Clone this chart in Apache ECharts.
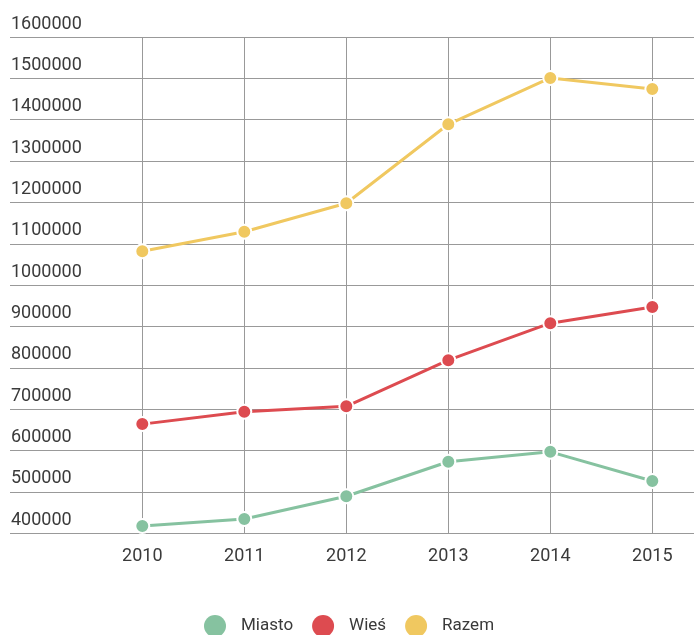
<!DOCTYPE html>
<html><head><meta charset="utf-8">
<script src="https://cdn.jsdelivr.net/npm/echarts@6/dist/echarts.min.js"></script>
<style>html,body{margin:0;padding:0;background:#fff}#c{width:694px;height:635px}</style>
</head><body><div id="c"></div>
<script>
const years = ['2010','2011','2012','2013','2014','2015'];
const miasto = [417700, 434600, 489500, 573000, 597000, 526500];
const wies = [664000, 694000, 707000, 818600, 908000, 947000];
const razem = [1082000, 1129000, 1198000, 1389000, 1501000, 1474000];
const yMin = 400000, yMax = 1600000, yStep = 100000;

const colors = ['#86c2a0', '#dd4b50', '#f0c860'];
const font = 'Roboto, sans-serif';
const chart = echarts.init(document.getElementById('c'));
function ser(name, data, ci) {
  return {
    name, type: 'line', data, xAxisIndex: 1, yAxisIndex: 1,
    symbol: 'circle', symbolSize: 14,
    lineStyle: { width: 3, color: colors[ci] },
    itemStyle: { color: colors[ci], borderColor: '#fff', borderWidth: 2 },
    emphasis: { disabled: true }
  };
}
chart.setOption({
  animation: false,
  color: colors,
  grid: [
    { left: 10, right: 0, top: 37, bottom: 101.7 },
    { left: 142.3, right: 41.7, top: 37, bottom: 101.7 }
  ],
  xAxis: [
    { type: 'category', gridIndex: 0, data: years, show: false },
    { type: 'category', gridIndex: 1, data: years, boundaryGap: false,
      axisLine: { show: false }, axisTick: { show: false },
      axisLabel: { margin: 14, color: '#3a3a3a', fontSize: 18, fontFamily: font },
      splitLine: { show: true, lineStyle: { color: '#999', width: 1 } } }
  ],
  yAxis: [
    { type: 'value', gridIndex: 0, min: yMin, max: yMax, interval: yStep,
      axisLine: { show: false }, axisTick: { show: false },
      axisLabel: { inside: true, margin: 1, align: 'left', verticalAlign: 'bottom',
        formatter: v => String(v),
        padding: [0, 0, 4, 0], color: '#3a3a3a', fontSize: 18, fontFamily: font },
      splitLine: { show: true, lineStyle: { color: '#999', width: 1 } } },
    { type: 'value', gridIndex: 1, min: yMin, max: yMax, interval: yStep, show: false,
      splitLine: { show: false } }
  ],
  legend: {
    left: 204, top: 615, padding: 0, icon: 'circle', itemWidth: 22, itemHeight: 22, itemGap: 19,
    itemStyle: { borderWidth: 0 },
    textStyle: { color: '#3a3a3a', fontSize: 17, fontFamily: font, padding: [0, 0, 0, 10] },
    data: ['Miasto', 'Wieś', 'Razem']
  },
  series: [ser('Miasto', miasto, 0), ser('Wieś', wies, 1), ser('Razem', razem, 2)]
});
</script></body></html>
